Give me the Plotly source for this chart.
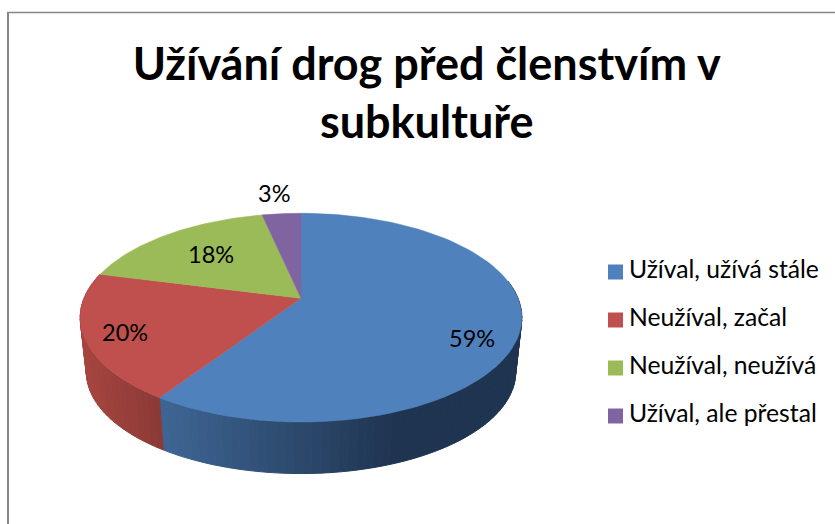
import numpy as np
import plotly.graph_objects as go

# data
categories = ["Užíval, užívá stále", "Neužíval, začal", "Neužíval, neužívá", "Užíval, ale přestal"]
shares = [59.3, 19.7, 17.6, 3.4]

# top face and wall colours
top_colors = ["#4F81BD", "#C0504D", "#9BBB59", "#8064A2"]
wall_ramps = [((62, 102, 148), (31, 52, 80)), ((168, 69, 63), (139, 58, 55))]
ramp_x = [(163, 393), (83, 163)]

CX, APEX_Y, R = 301, 298.3, 217
TILT_A, TILT_C = -45.45, 0.1854
ELL_CY = 317.5
WALL_SCALE, WALL_CY = 0.972, 372

FONT = "Lato"


def rim(theta):
    # tilted circle -> screen, theta clockwise from the top
    u, v = np.sin(theta), np.cos(theta)
    w = 1 + TILT_C * v
    return CX + R * u / w, (TILT_A * v + APEX_Y) / w


def wall_rim(theta):
    x, y = rim(theta)
    return CX + (x - CX) * WALL_SCALE, WALL_CY + (y - ELL_CY) * WALL_SCALE


def ramp_color(x, i):
    lo, hi = ramp_x[i]
    t = min(max((x - lo) / (hi - lo), 0), 1)
    c0, c1 = wall_ramps[i]
    rgb = [round(a + (b - a) * t) for a, b in zip(c0, c1)]
    return "rgb(%d,%d,%d)" % tuple(rgb)


fracs = np.cumsum([0] + shares) / sum(shares)
edges = fracs * 2 * np.pi

fig = go.Figure()

# --- side wall, thin strips so the shading runs along it ---
for i in range(2):
    start = max(edges[i], np.radians(80))
    stop = min(edges[i + 1], np.radians(286))
    steps = np.linspace(start, stop, int((stop - start) / np.radians(2)) + 2)
    for a, b in zip(steps[:-1], steps[1:]):
        x0, y0 = rim(a)
        x1, y1 = rim(b)
        x2, y2 = wall_rim(b)
        x3, y3 = wall_rim(a)
        col = ramp_color((x2 + x3) / 2, i)
        fig.add_trace(go.Scatter(
            x=[x0, x1, x2, x3, x0], y=[y0, y1, y2, y3, y0],
            mode="lines", fill="toself", fillcolor=col,
            line=dict(color=col, width=1),
            hoverinfo="skip", showlegend=False
        ))

# --- top face ---
for i, name in enumerate(categories):
    th = np.linspace(edges[i], edges[i + 1], 90)
    xs, ys = rim(th)
    fig.add_trace(go.Scatter(
        x=np.r_[CX, xs, CX], y=np.r_[APEX_Y, ys, APEX_Y],
        mode="lines", fill="toself", fillcolor=top_colors[i],
        line=dict(color=top_colors[i], width=0.5),
        name=name, hoverinfo="name", showlegend=False
    ))

# --- legend ---
legend_y = [272, 320, 368, 416]
fig.add_trace(go.Scatter(
    x=[615.5] * 4, y=legend_y, mode="markers",
    marker=dict(symbol="square", size=15, color=top_colors),
    hoverinfo="skip", showlegend=False
))
fig.add_trace(go.Scatter(
    x=[629] * 4, y=legend_y, mode="text",
    text=categories, textposition="middle right",
    textfont=dict(family=FONT, size=24.7, color="black"),
    hoverinfo="skip", showlegend=False
))

# --- percent labels ---
label_x = [472, 125, 211, 274]
label_y = [338, 332, 254, 193]
for share, lx, ly in zip(shares, label_x, label_y):
    fig.add_annotation(x=lx, y=ly, text="%.0f%%" % share, showarrow=False,
                       font=dict(family=FONT, size=23.5, color="black"))

# chart frame, only left and top are in the crop
fig.add_shape(type="line", x0=8, x1=8, y0=12, y1=524, line=dict(color="#868686", width=2))
fig.add_shape(type="line", x0=7, x1=835, y0=12.5, y1=12.5, line=dict(color="#868686", width=1.5))

fig.update_layout(
    width=835, height=524, margin=dict(l=0, r=0, t=0, b=0),
    paper_bgcolor="white", plot_bgcolor="white", showlegend=False,
    title=dict(text="<b>Užívání drog před členstvím v<br>subkultuře</b>",
               x=0.511, xanchor="center", y=0.848, yanchor="top",
               font=dict(family=FONT, size=45, color="black")),
    xaxis=dict(range=[0, 835], visible=False, fixedrange=True),
    yaxis=dict(range=[524, 0], visible=False, fixedrange=True)
)

fig.write_html("out.html", config=dict(displayModeBar=False),
               post_script="document.body.style.margin='0';")
